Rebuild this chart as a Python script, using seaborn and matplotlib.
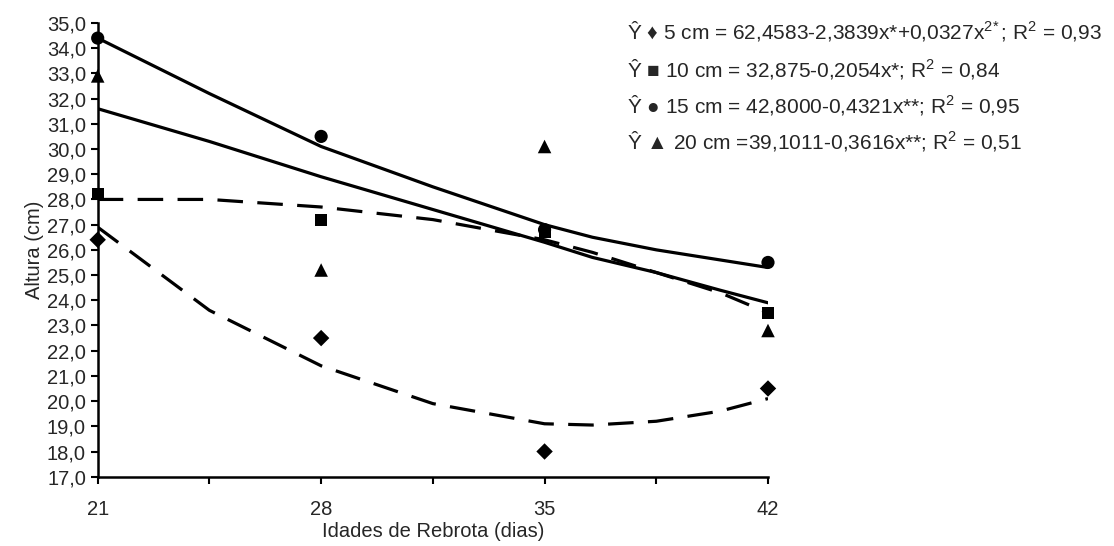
import numpy as np
import pandas as pd
import matplotlib
matplotlib.use("Agg")
import matplotlib.pyplot as plt
import seaborn as sns
from matplotlib.ticker import FuncFormatter, FixedLocator

# observed means (symbols)
days = [21, 28, 35, 42]
obs_5cm = [26.4, 22.5, 18.0, 20.5]
obs_10cm = [28.2, 27.2, 26.7, 23.5]
obs_15cm = [34.4, 30.5, 26.8, 25.5]
obs_20cm = [32.9, 25.2, 30.1, 22.8]

# fitted curves
fit_days = [21, 24.5, 28, 31.5, 35, 36.5, 38.5, 40.5, 42]
fit_5cm = [26.9, 23.6, 21.4, 19.9, 19.1, 19.05, 19.2, 19.6, 20.1]
fit_10cm = [28.0, 28.0, 27.7, 27.2, 26.4, 25.9, 25.1, 24.3, 23.5]
fit_15cm = [34.4, 32.2, 30.1, 28.5, 27.0, 26.5, 26.0, 25.6, 25.3]
fit_20cm = [31.6, 30.3, 28.9, 27.6, 26.3, 25.7, 25.1, 24.4, 23.9]

legend_lines = [
    "Ŷ ♦ 5 cm = 62,4583-2,3839x*+0,0327x$^{2\\!*}$; R$^2$ = 0,93",
    "Ŷ ■ 10 cm = 32,875-0,2054x*; R$^2$ = 0,84",
    "Ŷ ● 15 cm = 42,8000-0,4321x**; R$^2$ = 0,95",
    "Ŷ ▲ 20 cm =39,1011-0,3616x**; R$^2$ = 0,51",
]

sns.set_style("ticks")
plt.rcParams["font.family"] = ["Liberation Sans", "DejaVu Sans"]
plt.rcParams["mathtext.fontset"] = "custom"
plt.rcParams["mathtext.rm"] = "Liberation Sans"
plt.rcParams["mathtext.it"] = "Liberation Sans"
plt.rcParams["mathtext.default"] = "rm"

fig = plt.figure(figsize=(11.14, 5.46), dpi=100)
ax = fig.add_axes([0.0877, 0.1269, 0.6017, 0.831])

fits = pd.DataFrame({"dias": fit_days, "5 cm": fit_5cm, "10 cm": fit_10cm,
                     "15 cm": fit_15cm, "20 cm": fit_20cm})
obs = pd.DataFrame({"dias": days, "5 cm": obs_5cm, "10 cm": obs_10cm,
                    "15 cm": obs_15cm, "20 cm": obs_20cm})

styles = {"5 cm": (8, 4.5), "10 cm": (8, 4.5), "15 cm": None, "20 cm": None}
markers = {"5 cm": ("D", 70), "10 cm": ("s", 75), "15 cm": ("o", 90), "20 cm": ("^", 95)}

for name in ["5 cm", "10 cm", "15 cm", "20 cm"]:
    sns.lineplot(data=fits, x="dias", y=name, ax=ax, color="black", lw=2.3)
    if styles[name] is not None:
        ax.lines[-1].set_dashes(styles[name])
    m, s = markers[name]
    sns.scatterplot(data=obs, x="dias", y=name, ax=ax, color="black", marker=m,
                    s=s, edgecolor="none", zorder=5, clip_on=False)

ax.set_xlim(21, 42)
ax.set_ylim(17, 35)
ax.xaxis.set_major_locator(FixedLocator([21, 28, 35, 42]))
ax.xaxis.set_minor_locator(FixedLocator([24.5, 31.5, 38.5]))
ax.yaxis.set_major_locator(FixedLocator(np.arange(17, 35.5, 1)))
ax.yaxis.set_major_formatter(FuncFormatter(lambda v, p: f"{v:.1f}".replace(".", ",")))
ax.tick_params(axis="both", which="both", direction="out", length=5, width=1.5,
               labelsize=14.5, color="black")
ax.tick_params(axis="x", pad=12)
sns.despine(ax=ax)
for sp in ["left", "bottom"]:
    ax.spines[sp].set_linewidth(1.8)
    ax.spines[sp].set_color("black")

ax.set_xlabel("Idades de Rebrota (dias)", fontsize=14.5, labelpad=2)
ax.set_ylabel("Altura (cm)", fontsize=14.5, labelpad=2)

ys = [31, 69, 105, 141]
for txt, y in zip(legend_lines, ys):
    fig.text(627 / 1114, 1 - y / 546, txt, fontsize=15, va="center", ha="left")

fig.savefig("out.png", dpi=100)
